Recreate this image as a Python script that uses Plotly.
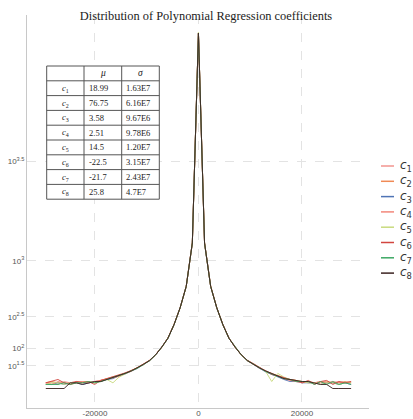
import numpy as np
import plotly.graph_objects as go

# ---------------- data ----------------
bin_centers = [-29500, -28320, -27140, -25960, -24780, -23600, -22420, -21240, -20060,
               -18880, -17700, -16520, -15340, -14160, -12980, -11800, -10620,
               -9440, -8260, -7080, -5900, -4720, -3540, -2360, -1180, 0,
               1180, 2360, 3540, 4720, 5900, 7080, 8260, 9440,
               10620, 11800, 12980, 14160, 15340, 16520, 17700, 18880, 20060,
               21240, 22420, 23600, 24780, 25960, 27140, 28320, 29500]

c1 = [2, 2, 1, 3, 2, 3, 2, 2, 3, 4, 5, 7, 10, 15, 19, 27, 37,
      48, 71, 104, 156, 252, 402, 642, 1295, 7740, 1300, 645, 398, 248, 154, 106, 69, 47,
      36, 25, 19, 13, 9, 6, 4, 3, 3, 2, 2, 3, 2, 2, 3, 2, 2]
c2 = [2, 3, 2, 2, 1, 2, 3, 3, 2, 4, 6, 8, 11, 14, 20, 26, 35,
      49, 70, 106, 155, 250, 398, 638, 1302, 7752, 1298, 640, 401, 251, 157, 104, 71, 49,
      37, 27, 18, 14, 10, 7, 5, 4, 3, 3, 2, 2, 3, 2, 2, 3, 2]
c3 = [1, 1, 2, 1, 2, 2, 1, 2, 3, 3, 5, 6, 10, 13, 19, 25, 36,
      47, 69, 105, 154, 249, 401, 640, 1298, 7745, 1294, 638, 399, 250, 155, 105, 70, 48,
      35, 25, 17, 12, 8, 5, 3, 3, 2, 2, 2, 1, 2, 2, 1, 2, 1]
c4 = [2, 1, 3, 2, 2, 3, 3, 2, 3, 4, 5, 7, 9, 14, 18, 26, 37,
      48, 70, 105, 156, 251, 400, 641, 1300, 7748, 1301, 642, 400, 252, 156, 106, 70, 48,
      36, 26, 19, 14, 9, 6, 4, 3, 2, 3, 2, 3, 2, 3, 2, 2, 3]
c5 = [1, 2, 2, 1, 2, 2, 2, 3, 2, 3, 5, 2, 8, 13, 19, 27, 36,
      47, 70, 104, 155, 250, 399, 639, 1296, 7790, 1297, 639, 400, 249, 155, 105, 70, 48,
      37, 26, 18, 3, 14, 8, 5, 4, 3, 2, 2, 1, 2, 2, 1, 2, 2]
c6 = [2, 3, 5, 2, 1, 3, 2, 3, 1, 4, 6, 8, 11, 15, 20, 26, 37,
      49, 71, 106, 157, 252, 401, 643, 1303, 7755, 1302, 643, 401, 251, 156, 105, 71, 49,
      38, 28, 20, 12, 10, 7, 5, 4, 2, 4, 1, 3, 4, 1, 3, 2, 3]
c7 = [1, 1, 1, 2, 1, 2, 2, 3, 2, 3, 5, 7, 10, 14, 19, 25, 35,
      48, 70, 105, 155, 250, 400, 640, 1299, 7749, 1299, 641, 400, 250, 155, 105, 70, 48,
      36, 25, 18, 13, 9, 6, 5, 3, 3, 3, 1, 3, 1, 3, 1, 2, 1]
c8 = [0, 0, 0, 0, 2, 2, 1, 2, 3, 3, 5, 7, 10, 14, 19, 26, 36,
      48, 70, 105, 155, 250, 400, 640, 1300, 7760, 1300, 640, 400, 250, 155, 105, 70, 48,
      36, 26, 19, 14, 9, 6, 5, 4, 3, 3, 2, 1, 1, 0, 0, 0, 0]

series_names = ["1", "2", "3", "4", "5", "6", "7", "8"]
series_values = [c1, c2, c3, c4, c5, c6, c7, c8]
series_colors = ["#F2958F", "#F08A55", "#4F74B5", "#F3877A", "#C9DB7E", "#D2453F", "#3DA864", "#3B2220"]

table_header = ["", "<i>μ</i>", "<i>σ</i>"]
table_mu = ["18.99", "76.75", "3.58", "2.51", "14.5", "-22.5", "-21.7", "25.8"]
table_sigma = ["1.63E7", "6.16E7", "9.67E6", "9.78E6", "1.20E7", "3.15E7", "2.43E7", "4.7E7"]

y_tick_exponents = [1.5, 2, 2.5, 3, 3.5]
x_tick_values = [-20000, 0, 20000]
x_tick_labels = ["-20000", "0", "20000"]

# ---------------- figure ----------------
W, H = 413, 419
ML, MR, MT, MB = 27, 44, 15, 11
PW, PH = W - ML - MR, H - MT - MB


def px_x(p):
    return (p - ML) / PW


def px_y(p):
    return (H - MB - p) / PH


fig = go.Figure()
for name, vals, col in zip(series_names, series_values, series_colors):
    fig.add_trace(go.Scatter(
        x=bin_centers, y=np.sqrt(np.array(vals, dtype=float)),
        mode="lines", line=dict(color=col, width=1), opacity=0.9,
        name="c" + name, showlegend=False, hoverinfo="skip"))

shapes = []
annotations = []

# ---- table (drawn with shapes + text) ----
T_TOP, ROW_H = 66.0, 14.8
COL_EDGES = [46.7, 84.0, 121.7, 159.3]
n_rows = len(table_mu) + 1
T_BOTTOM = T_TOP + ROW_H * n_rows
TABLE_LINE = dict(color="#555555", width=1)
shapes.append(dict(type="rect", xref="paper", yref="paper", layer="above",
                   x0=px_x(COL_EDGES[0]), x1=px_x(COL_EDGES[-1]),
                   y0=px_y(T_BOTTOM), y1=px_y(T_TOP),
                   fillcolor="white", line=TABLE_LINE))
for r in range(1, n_rows):
    yy = px_y(T_TOP + ROW_H * r)
    shapes.append(dict(type="line", xref="paper", yref="paper", layer="above",
                       x0=px_x(COL_EDGES[0]), x1=px_x(COL_EDGES[-1]), y0=yy, y1=yy,
                       line=TABLE_LINE))
for cx in COL_EDGES[1:-1]:
    shapes.append(dict(type="line", xref="paper", yref="paper", layer="above",
                       x0=px_x(cx), x1=px_x(cx), y0=px_y(T_BOTTOM), y1=px_y(T_TOP),
                       line=TABLE_LINE))

TFONT = dict(family="Liberation Serif", size=8.5, color="#222222")
for j, txt in enumerate(table_header):
    if not txt:
        continue
    annotations.append(dict(xref="paper", yref="paper", showarrow=False,
                            x=px_x((COL_EDGES[j] + COL_EDGES[j + 1]) / 2),
                            y=px_y(T_TOP + ROW_H / 2), xanchor="center", yanchor="middle",
                            text=txt, font=dict(family="Liberation Serif", size=9.5, color="#222222")))
for i, (n, mu, sg) in enumerate(zip(series_names, table_mu, table_sigma)):
    yy = px_y(T_TOP + ROW_H * (i + 1.5))
    annotations.append(dict(xref="paper", yref="paper", showarrow=False,
                            x=px_x((COL_EDGES[0] + COL_EDGES[1]) / 2), y=yy,
                            xanchor="center", yanchor="middle",
                            text="<i>c</i><sub>%s</sub>" % n, font=TFONT))
    annotations.append(dict(xref="paper", yref="paper", showarrow=False,
                            x=px_x(COL_EDGES[1] + 2.5), y=yy,
                            xanchor="left", yanchor="middle", text=mu, font=TFONT))
    annotations.append(dict(xref="paper", yref="paper", showarrow=False,
                            x=px_x(COL_EDGES[2] + 2.5), y=yy,
                            xanchor="left", yanchor="middle", text=sg, font=TFONT))

# ---- manual legend ----
for i, (name, col) in enumerate(zip(series_names, series_colors)):
    yy = px_y(166 + 15.3 * i)
    shapes.append(dict(type="line", xref="paper", yref="paper",
                       x0=px_x(381), x1=px_x(394), y0=yy, y1=yy,
                       line=dict(color=col, width=1.5)))
    annotations.append(dict(xref="paper", yref="paper", x=px_x(398), y=yy,
                            xanchor="left", yanchor="middle", showarrow=False,
                            text="<i>c</i><sub>%s</sub>" % name,
                            font=dict(family="DejaVu Sans", size=12, color="#333333")))

fig.update_layout(
    template="none",
    width=W, height=H,
    margin=dict(l=ML, r=MR, t=MT, b=MB, pad=0),
    paper_bgcolor="white", plot_bgcolor="white",
    title=dict(text="Distribution of Polynomial Regression coefficients",
               x=206 / W, y=1 - 16 / H, xanchor="center", yanchor="middle",
               font=dict(family="Liberation Serif", size=12.4, color="#222222")),
    shapes=shapes, annotations=annotations,
    showlegend=False,
)
fig.update_xaxes(range=[-33127, 32954], tickvals=x_tick_values, ticktext=x_tick_labels,
                 automargin=False, ticklen=0, ticklabelstandoff=-3,
                 showgrid=True, gridcolor="#E3E3E3", griddash="dash", gridwidth=1,
                 zeroline=False, showline=True, linecolor="#C8C8C8", linewidth=1,
                 ticks="", tickfont=dict(family="Liberation Sans", size=8, color="#555555"))
fig.update_yaxes(range=[-4.83, 92.56],
                 tickvals=[np.sqrt(10 ** e) for e in y_tick_exponents],
                 ticktext=["10<sup>%g</sup>" % e for e in y_tick_exponents],
                 automargin=False,
                 showgrid=True, gridcolor="#E3E3E3", griddash="dash", gridwidth=1,
                 zeroline=False, showline=True, linecolor="#C8C8C8", linewidth=1,
                 ticks="", tickfont=dict(family="Liberation Sans", size=8, color="#555555"))

fig.write_html("out.html")
